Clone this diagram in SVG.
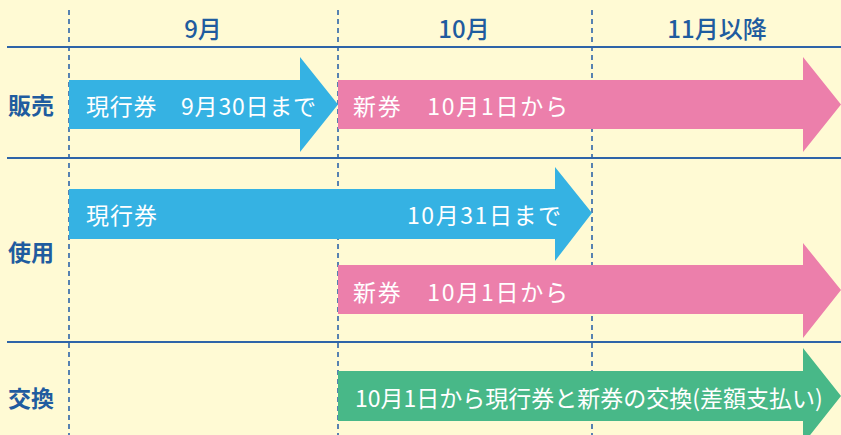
<svg xmlns="http://www.w3.org/2000/svg" width="841" height="435" viewBox="0 0 841 435">
<style>
.bg{fill:#fffad4}
.hline{stroke:#2e64a8;stroke-width:2;fill:none}
.vline{stroke:#2e64a8;stroke-width:1.6;stroke-dasharray:5 4;fill:none}
.hdr{font-family:"Noto Sans CJK JP","Noto Sans",sans-serif;font-size:24px;font-weight:500;fill:#1f5c9f;text-anchor:middle;dominant-baseline:central}
.row{font-family:"Noto Sans CJK JP","Noto Sans",sans-serif;font-size:23px;font-weight:700;fill:#1f5c9f;dominant-baseline:central}
.lbl{font-family:"Noto Sans CJK JP","Noto Sans",sans-serif;font-size:23px;font-weight:400;fill:#ffffff;dominant-baseline:central}
.blue{fill:#35b2e3}
.pink{fill:#ec7fab}
.green{fill:#48b888}
</style>
<rect class="bg" x="0" y="0" width="841" height="435"/>
<g id="grid">
<line class="hline" x1="7" y1="47" x2="841" y2="47"/>
<line class="hline" x1="7" y1="158" x2="841" y2="158"/>
<line class="hline" x1="7" y1="342" x2="841" y2="342"/>
<line class="vline" x1="69" y1="10" x2="69" y2="435"/>
<line class="vline" x1="338" y1="10" x2="338" y2="435"/>
<line class="vline" x1="592" y1="10" x2="592" y2="435"/>
</g>
<g id="headers">
<text class="hdr" x="203" y="27">9月</text>
<text class="hdr" x="464" y="27">10月</text>
<text class="hdr" x="717" y="27">11月以降</text>
</g>
<g id="row-hanbai"><text class="row" x="8" y="104">販売</text></g>
<g id="row-shiyou"><text class="row" x="8" y="251">使用</text></g>
<g id="row-koukan"><text class="row" x="8" y="397">交換</text></g>
<g id="connectors">
<g id="sale-current">
<polygon class="blue" points="69,80 300,80 300,57 338,104.5 300,152 300,129 69,129"/>
<text class="lbl" x="86" y="105" textLength="230" lengthAdjust="spacing">現行券　9月30日まで</text>
</g>
<g id="sale-new">
<polygon class="pink" points="338,80 803,80 803,57 841,104.5 803,152 803,129 338,129"/>
<text class="lbl" x="353" y="105" textLength="215" lengthAdjust="spacing">新券　10月1日から</text>
</g>
<g id="use-current">
<polygon class="blue" points="69,189 555,189 555,167 592,213 555,261 555,239 69,239"/>
<text class="lbl" x="86" y="214" textLength="71" lengthAdjust="spacing">現行券</text>
<text class="lbl" x="407" y="214" textLength="154" lengthAdjust="spacing">10月31日まで</text>
</g>
<g id="use-new">
<polygon class="pink" points="338,265 803,265 803,243 841,290 803,338 803,314 338,314"/>
<text class="lbl" x="353" y="291" textLength="215" lengthAdjust="spacing">新券　10月1日から</text>
</g>
<g id="exchange">
<polygon class="green" points="338,371 803,371 803,348 841,396 803,444 803,421 338,421"/>
<text class="lbl" x="355" y="397">10月1日から現行券と新券の交換(差額支払い)</text>
</g>
</g>
</svg>
